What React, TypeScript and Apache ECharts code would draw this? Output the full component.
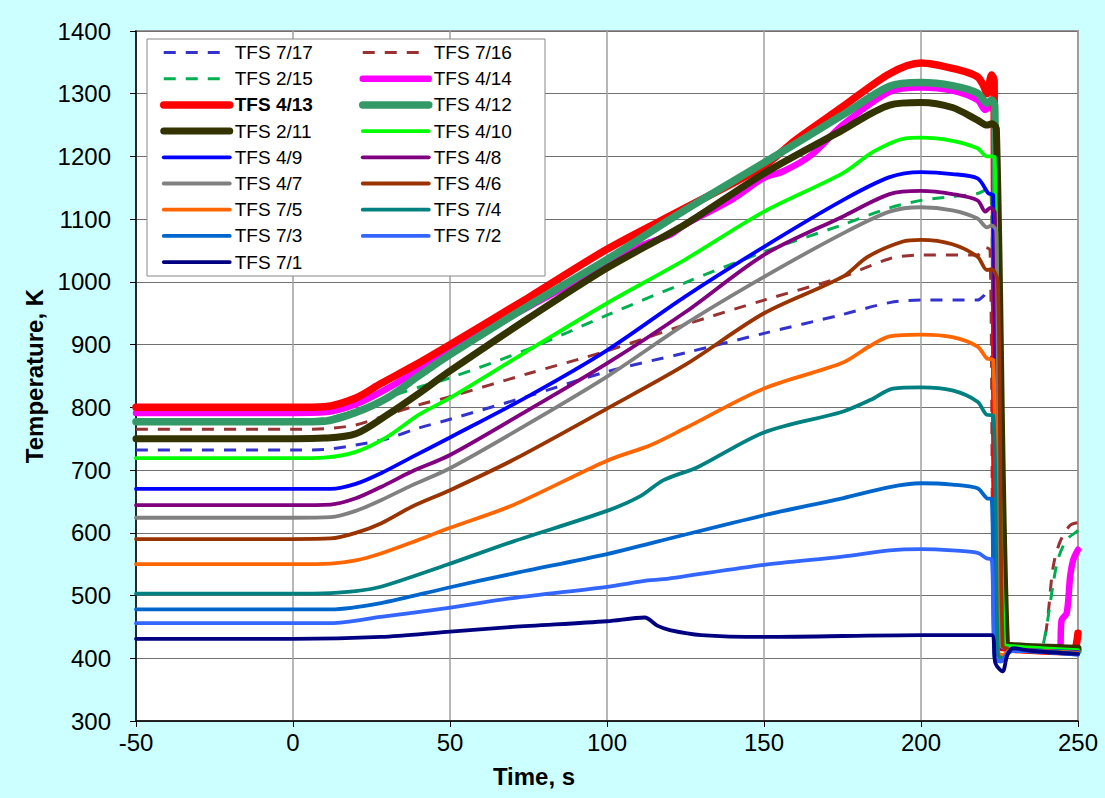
import React, { useEffect, useRef } from "react";
import * as echarts from "echarts";

// ---- data: [time s, temperature K] ----
const tfs717: number[][] = [[-50,732],[0,732],[10,733],[20,740],[30,750],[40,767],[50,781],[75,818],[100,857],[125,887],[150,918],[175,948],[190,967],[200,971],[218,971],[220,978],[221,984],[222.5,984],[223.5,420],[226,418],[230,415],[240,411],[250,408]];
const tfs716: number[][] = [[-50,765],[0,765],[10,766],[20,772],[30,788],[40,804],[50,817],[75,854],[100,890],[125,932],[150,971],[175,1008],[190,1037],[200,1043],[218,1043],[220.5,1055],[222,1050],[223.5,420],[226,418],[230,415],[238,413],[239.5,434],[240.5,471],[242.1,546],[244.3,586],[247.5,612],[250,616]];
const tfs215: number[][] = [[-50,780],[0,780],[10,782],[20,795],[28,812],[40,832],[50,847],[75,893],[100,947],[125,999],[150,1048],[175,1091],[190,1118],[200,1130],[210,1136],[218,1141],[222,1151],[223.5,420],[226,418],[230,415],[238,413],[239,424],[240.5,466],[242.1,519],[243.7,559],[246.4,589],[249.6,602],[250,604]];
const tfs414: number[][] = [[-50,791],[0,791],[10,792],[20,805],[30,830],[40,860],[50,891],[75,960],[100,1028],[112,1060],[120,1075],[125,1092],[140,1132],[150,1166],[156,1176],[165,1202],[175,1250],[190,1303],[200,1310],[210,1305],[218,1290],[220.5,1274],[222,1280],[223.3,1270],[223.8,420],[226,418],[230,415],[244,412],[244.8,461],[246.4,472],[247.5,530],[248.5,557],[250,573]];
const tfs413: number[][] = [[-50,800],[0,800],[10,801],[20,815],[28,838],[38,865],[50,900],[75,975],[100,1052],[125,1118],[150,1185],[160,1226],[175,1279],[190,1332],[200,1349],[212,1338],[218,1327],[220,1312],[221,1300],[222.5,1330],[223.3,1320],[223.8,420],[226,417],[230,414],[248.5,410],[249.3,418],[250,440]];
const tfs412: number[][] = [[-50,777],[0,777],[10,778],[20,792],[30,815],[40,850],[50,884],[75,962],[100,1036],[125,1115],[150,1190],[175,1266],[190,1312],[200,1318],[210,1313],[218,1301],[221,1285],[222.5,1290],[223.5,1280],[225.3,424],[228,420],[230,418],[250,412]];
const tfs211: number[][] = [[-50,750],[0,750],[10,751],[20,758],[30,788],[40,822],[50,858],[75,942],[100,1022],[125,1092],[150,1173],[175,1242],[190,1282],[200,1286],[210,1278],[218,1258],[221,1250],[222.5,1252],[224,1245],[227.2,424],[230,420],[250,416]];
const tfs410: number[][] = [[-50,719],[0,719],[10,720],[20,729],[30,753],[40,788],[50,815],[75,891],[100,966],[125,1036],[150,1112],[175,1173],[185,1208],[195,1229],[200,1230],[210,1225],[218,1213],[221,1200],[222.5,1200],[223.5,1198],[226.5,424],[230,419],[250,413]];
const tfs49: number[][] = [[-50,670],[0,670],[12,670],[20,678],[28,695],[38,721],[50,752],[75,818],[100,891],[125,977],[150,1056],[175,1130],[190,1167],[200,1175],[210,1172],[218,1165],[221.5,1141],[223,1138],[224.5,420],[227,416],[230,414],[250,410]];
const tfs48: number[][] = [[-50,644],[0,644],[12,645],[20,655],[28,673],[38,698],[50,724],[75,796],[100,870],[125,952],[150,1043],[175,1104],[190,1140],[200,1145],[210,1140],[218,1130],[220.5,1112],[222,1118],[223.5,1110],[225,420],[227,415],[230,413],[250,409]];
const tfs47: number[][] = [[-50,624],[0,624],[12,625],[20,635],[28,652],[38,676],[50,703],[75,774],[100,849],[125,933],[150,1008],[175,1077],[190,1112],[200,1119],[210,1114],[218,1101],[221,1087],[222.5,1090],[224,1080],[225.5,420],[228,415],[230,413],[250,409]];
const tfs46: number[][] = [[-50,590],[0,590],[12,591],[20,600],[28,615],[38,642],[50,668],[70,716],[100,798],[125,868],[150,950],[175,1008],[183,1040],[194,1064],[200,1067],[210,1060],[218,1040],[221,1019],[222.5,1020],[224.5,1000],[226,420],[228,414],[230,412],[250,408]];
const tfs75: number[][] = [[-50,550],[0,550],[12,551],[20,556],[28,567],[38,585],[50,608],[70,644],[100,715],[114,740],[125,767],[150,830],[175,871],[183.5,897],[190,913],[200,916],[210,912],[218,897],[221,878],[223,876],[224.5,410],[226,405],[228,412],[230,413],[250,408]];
const tfs74: number[][] = [[-50,503],[0,503],[12,504],[20,507],[28,514],[49,549],[70,586],[100,635],[110.5,658],[118,684],[129,705],[150,760],[175,793],[184,812],[191,830],[200,832],[210,827],[218,809],[221,788],[223,787],[224.5,405],[226,400],[228,410],[230,412],[250,407]];
const tfs73: number[][] = [[-50,478],[0,478],[12,478],[28,488],[49,512],[70,535],[100,566],[116,586],[150,628],[175,655],[190,673],[200,679],[210,677],[218,671],[221,655],[222.5,654],[223.5,400],[225.5,395],[228,410],[230,412],[250,406]];
const tfs72: number[][] = [[-50,456],[0,456],[12,456],[28,466],[49,480],[70,496],[100,514],[113,524],[118,526],[150,549],[175,562],[190,572],[200,574],[210,572],[218,568],[221,559],[222.5,558],[223.5,400],[225.5,395],[228,410],[230,412],[250,406]];
const tfs71: number[][] = [[-50,431],[0,431],[28,434],[49,442],[70,450],[100,459],[112,465],[116,452],[120,445],[130,437],[150,434],[200,437],[222.5,437],[223.7,392],[226,379],[227.5,405],[229.5,416],[235,412],[250,407]];

const seriesNames = ["TFS 7/17","TFS 7/16","TFS 2/15","TFS 4/14","TFS 4/13","TFS 4/12","TFS 2/11","TFS 4/10","TFS 4/9","TFS 4/8","TFS 4/7","TFS 4/6","TFS 7/5","TFS 7/4","TFS 7/3","TFS 7/2","TFS 7/1"];
const seriesData = [tfs717,tfs716,tfs215,tfs414,tfs413,tfs412,tfs211,tfs410,tfs49,tfs48,tfs47,tfs46,tfs75,tfs74,tfs73,tfs72,tfs71];
const seriesColors = ["#3333CC","#993333","#00B050","#FF00FF","#FF0000","#339966","#333300","#00FF00","#0000FF","#800080","#808080","#993300","#FF6600","#008080","#0066CC","#3366FF","#000080"];
const seriesWidths = [3,3,3,6.5,7.5,7.5,7,3.8,3.8,3.8,3.8,3.8,3.8,3.8,3.8,3.8,3.8];
const seriesDashed = [true,true,true,false,false,false,false,false,false,false,false,false,false,false,false,false,false];

const legendCol1 = ["TFS 7/17","TFS 2/15","TFS 4/13","TFS 2/11","TFS 4/9","TFS 4/7","TFS 7/5","TFS 7/3","TFS 7/1"];
const legendCol2 = ["TFS 7/16","TFS 4/14","TFS 4/12","TFS 4/10","TFS 4/8","TFS 4/6","TFS 7/4","TFS 7/2"];
const boldLegend = "TFS 4/13";

const xTicks = { min: -50, max: 250, interval: 50 };
const yTicks = { min: 300, max: 1400, interval: 100 };

const FONT = "Arial, 'Liberation Sans', sans-serif";

export default function App() {
  const ref = useRef<HTMLDivElement>(null);
  useEffect(() => {
    if (!ref.current) return;
    const chart = echarts.init(ref.current, undefined, { renderer: "svg" });
    const series = seriesNames.map((name, i) => ({
      type: "line",
      name,
      data: seriesData[i],
      symbol: "none",
      showSymbol: false,
      smooth: 0.3,
      silent: true,
      emphasis: { disabled: true },
      itemStyle: { color: seriesColors[i] },
      lineStyle: {
        color: seriesColors[i],
        width: seriesWidths[i],
        type: seriesDashed[i] ? [12, 10] : "solid",
        cap: seriesDashed[i] ? "butt" : "round",
        join: "round",
      },
    }));
    const legendBase = {
      orient: "vertical",
      top: 43,
      padding: 0,
      itemWidth: 66,
      itemHeight: 19,
      itemGap: 7.2,
      selectedMode: false,
      itemStyle: { opacity: 0 },
      lineStyle: { width: "inherit" },
      textStyle: { fontFamily: FONT, fontSize: 19, color: "#000" },
    };
    const mkData = (arr: string[]) =>
      arr.map((n) => (n === boldLegend ? { name: n, textStyle: { fontWeight: "bold" } } : { name: n }));
    chart.setOption({
      animation: false,
      backgroundColor: "#CCFFFF",
      textStyle: { fontFamily: FONT },
      grid: {
        left: 136,
        right: 27,
        top: 31,
        bottom: 77,
        show: true,
        backgroundColor: "#FFFFFF",
        borderColor: "#999999",
        borderWidth: 2,
      },
      legend: [
        { ...legendBase, left: 160, data: mkData(legendCol1) },
        { ...legendBase, left: 359, data: mkData(legendCol2) },
      ],
      graphic: [
        {
          type: "rect",
          z: 3,
          shape: { x: 147, y: 39, width: 398, height: 237 },
          style: { fill: "#FFFFFF", stroke: "#888888", lineWidth: 1 },
        },
      ],
      xAxis: {
        type: "value",
        min: xTicks.min,
        max: xTicks.max,
        interval: xTicks.interval,
        name: "Time, s",
        nameLocation: "middle",
        nameGap: 43,
        nameTextStyle: { fontFamily: FONT, fontSize: 24, fontWeight: "bold", color: "#000", padding: [0, 146, 0, 0] },
        axisLine: { onZero: false, lineStyle: { color: "#000", width: 1.5 } },
        axisTick: { show: true, inside: false, length: 6, lineStyle: { color: "#000" } },
        axisLabel: { fontFamily: FONT, fontSize: 24, color: "#000", margin: 9, formatter: (v: number) => String(v) },
        splitLine: { show: true, lineStyle: { color: "#A0A0A0", width: 1.5 } },
      },
      yAxis: {
        type: "value",
        min: yTicks.min,
        max: yTicks.max,
        interval: yTicks.interval,
        name: "Temperature, K",
        nameLocation: "middle",
        nameGap: 86,
        nameTextStyle: { fontFamily: FONT, fontSize: 24, fontWeight: "bold", color: "#000" },
        axisLine: { show: true, onZero: false, lineStyle: { color: "#000", width: 1.5 } },
        axisTick: { show: true, inside: false, length: 6, lineStyle: { color: "#000" } },
        axisLabel: { fontFamily: FONT, fontSize: 24, color: "#000", margin: 25, formatter: (v: number) => String(v) },
        splitLine: { show: true, lineStyle: { color: "#707070", width: 1 } },
      },
      series,
    });
    return () => chart.dispose();
  }, []);
  return (
    <div
      ref={ref}
      style={{ position: "absolute", left: 0, top: 0, width: 1105, height: 798 }}
    />
  );
}
